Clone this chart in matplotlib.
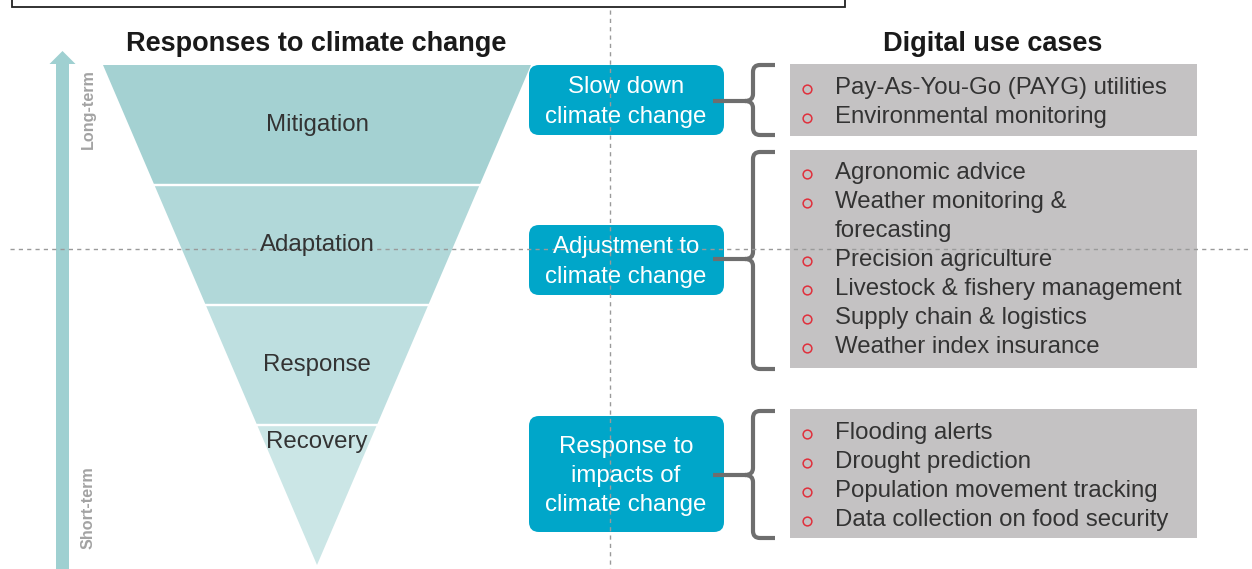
import matplotlib
matplotlib.use("Agg")
import matplotlib.pyplot as plt
from matplotlib.patches import Polygon, FancyBboxPatch, Rectangle, PathPatch
from matplotlib.path import Path

plt.rcParams['font.family'] = ['Liberation Sans', 'DejaVu Sans']

# ---- content ----
title_left = "Responses to climate change"
title_right = "Digital use cases"
layers = ["Mitigation", "Adaptation", "Response", "Recovery"]
layer_colors = ["#a4d1d2", "#b1d8d9", "#bedfe0", "#cbe6e6"]
time_labels = ["Long-term", "Short-term"]
responses = ["Slow down\nclimate change",
             "Adjustment to\nclimate change",
             "Response to\nimpacts of\nclimate change"]
use_cases_1 = ["Pay-As-You-Go (PAYG) utilities", "Environmental monitoring"]
use_cases_2 = ["Agronomic advice", "Weather monitoring &\nforecasting",
               "Precision agriculture", "Livestock & fishery management",
               "Supply chain & logistics", "Weather index insurance"]
use_cases_3 = ["Flooding alerts", "Drought prediction",
               "Population movement tracking", "Data collection on food security"]
use_case_groups = [use_cases_1, use_cases_2, use_cases_3]

# ---- layout ----
W, H = 1252, 569
fig = plt.figure(figsize=(W / 100, H / 100), dpi=100)
ax = fig.add_axes([0, 0, 1, 1])
ax.set_xlim(0, W)
ax.set_ylim(H, 0)
ax.axis('off')

TXT = "#333333"
FS = 17.3
DY = 2  # small vertical text correction

# top partial box
ax.add_patch(Rectangle((12, -20), 833, 27, fill=False, edgecolor="#222222", lw=1.3, zorder=2))

# funnel
cx, ytop, yapex, half_top = 317, 65, 565, 214
bounds = [65, 185, 305, 425, 565]
def hw(y):
    return half_top * (yapex - y) / (yapex - ytop)
for i, (lab, col) in enumerate(zip(layers, layer_colors)):
    ya = bounds[i] + (0 if i == 0 else 1.2)
    yb = bounds[i + 1] - (1.2 if i < len(layers) - 1 else 0)
    pts = [(cx - hw(ya), ya), (cx + hw(ya), ya), (cx + hw(yb), yb), (cx - hw(yb), yb)]
    ax.add_patch(Polygon(pts, closed=True, facecolor=col, edgecolor='none', zorder=1))
label_y = [123, 243, 363, 440]
for lab, y in zip(layers, label_y):
    ax.text(cx, y + DY, lab, ha='center', va='center', fontsize=FS, color=TXT, zorder=5)

# time arrow
acol = "#9fd0d1"
ax.add_patch(Rectangle((56, 63), 13, H - 63, facecolor=acol, edgecolor='none', zorder=1))
ax.add_patch(Polygon([(49.5, 64), (75.5, 64), (62.5, 51)], closed=True, facecolor=acol,
                     edgecolor='none', zorder=1))
ax.text(88, 109, time_labels[0], rotation=90, ha='center', va='center', fontsize=11.6,
        color="#a3a3a3", fontweight='bold', zorder=5)
ax.text(88, 508, time_labels[1], rotation=90, ha='center', va='center', fontsize=11.6,
        color="#a3a3a3", fontweight='bold', zorder=5)

# titles
ax.text(316, 44, title_left, ha='center', va='center', fontsize=19.5, fontweight='bold', color="#1a1a1a")
ax.text(993, 44, title_right, ha='center', va='center', fontsize=19.5, fontweight='bold', color="#1a1a1a")

# blue boxes
blue = "#00a6c9"
boxes = [(65, 135), (225, 295), (416, 532)]
for (y0, y1), txt in zip(boxes, responses):
    ax.add_patch(FancyBboxPatch((529 + 10, y0 + 10), 195 - 20, (y1 - y0) - 20,
                                boxstyle="round,pad=10", facecolor=blue, edgecolor='none', zorder=3))
    ax.text(626, (y0 + y1) / 2 + 2, txt, ha='center', va='center', fontsize=FS, color='white',
            linespacing=1.42, zorder=5)

# braces
gcol = "#6e6e6e"
def brace(x, y0, y1, ym, tip_x, end_x, r=7):
    verts = [(end_x, y0), (x + r, y0), (x, y0), (x, y0 + r), (x, ym - r), (x, ym), (tip_x, ym),
             (x, ym), (x, ym + r), (x, y1 - r), (x, y1), (x + r, y1), (end_x, y1)]
    codes = [Path.MOVETO, Path.LINETO, Path.CURVE3, Path.CURVE3, Path.LINETO, Path.CURVE3, Path.CURVE3,
             Path.CURVE3, Path.CURVE3, Path.LINETO, Path.CURVE3, Path.CURVE3, Path.LINETO]
    ax.add_patch(PathPatch(Path(verts, codes), fill=False, edgecolor=gcol, lw=3, capstyle='butt',
                           joinstyle='round', zorder=4))
brace_spans = [(65, 135, 101), (152, 369, 259), (411, 538, 475)]
for y0, y1, ym in brace_spans:
    brace(753, y0, y1, ym, 745, 775)
    ax.plot([713, 746], [ym, ym], color=gcol, lw=3, solid_capstyle='butt', zorder=4)

# gray boxes with use cases
gray = "#c4c2c3"
gboxes = [(64, 136), (150, 368), (409, 538)]
first_line = [86, 171, 431]
step = 29
for (y0, y1), items, fy in zip(gboxes, use_case_groups, first_line):
    ax.add_patch(Rectangle((790, y0), 407, y1 - y0, facecolor=gray, edgecolor='none', zorder=1))
    k = 0
    for it in items:
        lines = it.split("\n")
        y = fy + k * step
        ax.plot([806.5], [y + 2.5], marker='o', ms=6.3, mfc='none', mec="#e0303c", mew=1.1, zorder=5)
        for j, ln in enumerate(lines):
            ax.text(835, fy + (k + j) * step + DY, ln, ha='left', va='center', fontsize=FS,
                    color=TXT, zorder=5)
        k += len(lines)

# dashed guide lines
ax.plot([610, 610], [10, H], color="#9a9a9a", lw=1, ls=(0, (3, 3)), zorder=4.5)
ax.plot([10, W], [249, 249], color="#9a9a9a", lw=1, ls=(0, (3, 3)), zorder=4.5)

fig.savefig("out.png", dpi=100)
